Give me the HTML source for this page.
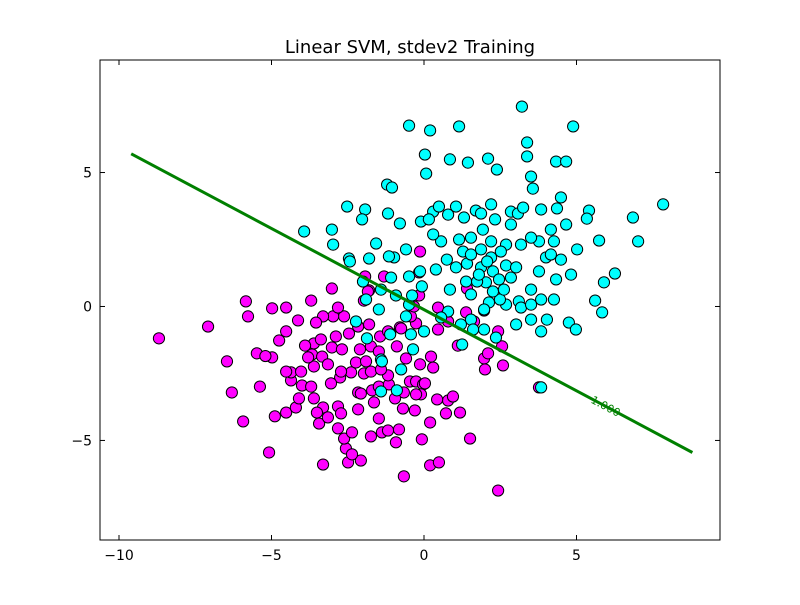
<!DOCTYPE html>
<html><head><meta charset="utf-8"><style>
body{margin:0;background:#fff;}
svg text{font-family:"DejaVu Sans","Liberation Sans",sans-serif;}
</style></head><body>
<svg id="chart" width="800" height="600" viewBox="0 0 800 600" xmlns="http://www.w3.org/2000/svg">
<rect width="800" height="600" fill="#fff"/>
<text x="410" y="53" font-size="18" text-anchor="middle">Linear SVM, stdev2 Training</text>
<g id="marks"></g>
<rect x="100" y="60" width="620" height="480" fill="none" stroke="#000" stroke-width="1"/>
<g id="ticks"></g>
</svg>
<script>
const cyanX=[-0.49,0.2,1.15,3.21,4.89,0.03,0.85,1.44,0.07,2.1,3.38,3.38,2.39,3.51,3.57,4.33,4.66,-1.21,-1.05,-2.52,-1.93,-2.03,-1.18,-0.79,-3.93,-3.02,-2.98,-2.46,-1.57,0.3,0.49,0.79,1.05,1.31,1.7,1.87,2.33,2.85,3.08,3.25,3.84,4.36,4.49,5.41,5.34,5.74,6.85,7.02,7.84,4.26,3.77,3.51,3.18,2.69,2.2,1.93,1.54,1.15,0.56,0.3,-0.13,0.39,0.75,1.28,1.41,1.87,2.2,2.69,3.02,3.77,4.0,4.49,4.82,5.61,5.84,5.9,4.33,4.26,3.84,3.51,3.11,2.69,2.13,1.54,1.38,0.85,0.79,0.56,-0.49,-0.92,-1.41,-1.9,-1.48,-2.23,-2.0,-0.59,-0.1,-0.98,-1.08,1.54,1.97,2.36,1.61,1.25,-0.36,-0.43,2.49,3.02,4.03,4.75,3.51,3.18,3.84,4.98,6.26,5.02,4.16,4.16,4.66,2.85,2.52,2.03,-1.41,-0.75,-1.41,-1.87,-1.11,3.84,1.74,1.87,2.2,0.16,-0.39,-0.07,-0.49,-2.43,-1.8,-1.15,-0.89,-1.38,0,-0.59,2.26,2.46,2.07,1.8,2.85,1.54,1.05,2.26,2.62,1.21,1.97,3.51];
const cyanY=[6.75,6.57,6.72,7.46,6.72,5.67,5.49,5.37,4.96,5.52,6.12,5.6,5.11,4.85,4.4,5.41,5.41,4.55,4.44,3.73,3.62,3.25,3.47,3.1,2.8,2.87,2.31,1.79,2.35,3.54,3.73,3.43,3.73,3.32,3.58,3.47,3.25,3.54,3.47,3.69,3.62,3.66,4.07,3.58,3.28,2.46,3.32,2.43,3.81,2.43,2.43,2.57,2.31,2.31,2.43,2.87,2.57,2.5,2.43,2.69,1.31,1.38,1.75,2.05,1.6,1.46,1.83,1.53,1.46,1.31,1.83,1.75,1.19,0.22,-0.22,0.9,1.01,0.26,0.26,0.63,0.19,0.07,0.15,0.45,0.93,0.63,-0.19,-0.41,0.07,0.41,0.63,0.26,-0.11,-0.56,0.93,2.13,3.17,1.83,1.08,-0.49,-0.11,-1.16,-0.86,-1.42,-1.6,-1.04,0.26,-0.67,-0.49,-0.6,-0.49,-0.04,-0.93,-0.86,1.23,2.13,1.94,2.87,3.06,3.06,2.05,0.9,-1.98,-2.35,-3.17,-1.19,-1.04,-3.02,0.93,2.13,3.81,3.25,0.41,0.75,1.12,1.68,1.79,1.87,-3.13,-2.05,-0.93,-0.37,1.31,1.01,1.68,1.19,1.08,1.94,1.46,0.56,0.63,-0.67,-0.86,0.07];
const magX=[-8.69,-7.08,-5.84,-5.77,-4.98,-4.52,-3.7,-3.02,-4.13,-4.52,-4.75,-5.48,-4.98,-6.46,-6.3,-5.38,-5.93,-5.08,-4.89,-4.52,-4.2,-4.1,-4.36,-4.36,-4.03,-4.0,-3.7,-3.61,-3.67,-3.61,-3.34,-3.15,-3.02,-2.69,-2.89,-2.46,-2.16,-1.8,-2.62,-2.98,-3.31,-3.54,-2.82,-3.31,-3.51,-3.44,-3.15,-2.82,-2.72,-2.75,-3.05,-2.39,-2.23,-1.9,-1.97,-1.74,-2.1,-1.74,-1.48,-1.44,-1.11,-0.89,-0.79,-1.97,-1.8,-1.93,-1.31,-0.16,-0.13,-2.16,-2.07,-1.7,-1.48,-1.15,-1.18,-1.41,-0.59,-0.46,-0.26,-0.03,-0.1,-0.26,-0.66,-0.95,-0.69,-0.3,-1.64,-2.16,-1.48,-1.74,-1.38,-1.18,-0.82,-0.92,-0.07,0.2,0.2,-0.66,-2.07,-2.49,-3.31,-2.56,-2.62,-2.36,-2.82,-3.61,-0.26,-0.43,-0.33,-0.16,-1.84,0.46,1.38,1.64,1.97,1.41,2.43,2.56,1.97,2.0,2.59,3.77,0.23,0.3,-0.75,-1.18,0.46,0.79,2.43,1.51,1.18,0.79,0.95,0.72,0.49,0.43,0.03,-0.13,1.11,2.1,-4.52,-3.9,-2.36,-3.8,-3.38,-2.72,-5.2];
const magY=[-1.19,-0.75,0.19,-0.37,-0.07,-0.04,0.22,0.67,-0.52,-0.93,-1.27,-1.75,-1.9,-2.05,-3.21,-2.99,-4.29,-5.45,-4.1,-3.96,-3.77,-3.43,-2.76,-2.46,-2.43,-2.95,-2.99,-2.24,-1.79,-1.38,-1.87,-2.16,-1.53,-1.6,-1.12,-1.01,-0.75,-0.67,-0.37,-0.37,-0.37,-0.6,-0.04,-3.77,-3.96,-4.37,-4.14,-3.73,-3.99,-2.65,-2.87,-2.46,-2.09,-2.05,-2.5,-2.43,-1.6,-1.49,-1.68,-1.12,-1.01,-1.49,-0.78,0.22,0.6,1.12,1.12,1.27,2.05,-3.21,-3.25,-3.13,-2.99,-2.91,-2.57,-2.35,-1.94,-2.8,-2.8,-2.91,-3.28,-3.28,-3.21,-3.43,-3.81,-3.88,-3.58,-3.84,-4.18,-4.85,-4.7,-4.63,-4.59,-5.07,-4.96,-4.33,-5.93,-6.34,-5.75,-5.82,-5.9,-5.3,-4.93,-4.7,-4.55,-3.43,-0.63,-0.37,0,0.41,0.56,-0.04,-0.22,-0.56,-0.15,0.67,-0.93,-1.49,-1.94,-2.35,-2.2,-3.02,-1.87,-2.28,-0.82,-0.93,-0.86,-0.56,-6.87,-4.93,-3.96,-3.51,-3.36,-3.99,-5.82,-3.47,-2.87,-2.16,-1.46,-1.75,-2.43,-1.46,-5.52,-1.9,-1.23,-2.43,-1.85];
const lineX=[-9.6,8.8];
const lineY=[5.7,-5.45];
const xTicks=[-10,-5,0,5];
const xTickLabels=["\u221210","\u22125","0","5"];
const yTicks=[-5,0,5];
const yTickLabels=["\u22125","0","5"];
const contourLabel="1.000";
const contourLabelPos=[5.9,-3.85];

const X0=-10.623,X1=9.705,Y0=-8.716,Y1=9.2;
const L=100,R=720,T=60,B=540;
const sx=v=>L+(v-X0)/(X1-X0)*(R-L);
const sy=v=>B-(v-Y0)/(Y1-Y0)*(B-T);
const NS="http://www.w3.org/2000/svg";
const marks=document.getElementById('marks');
const ticks=document.getElementById('ticks');
function mk(tag,attrs,parent){const e=document.createElementNS(NS,tag);for(const k in attrs)e.setAttribute(k,attrs[k]);parent.appendChild(e);return e;}

magX.forEach((x,i)=>{
  const c=mk('circle',{cx:sx(x),cy:sy(magY[i]),r:5.6,fill:'#ff00ff',stroke:'#000','stroke-width':1},marks);
  
  
});
cyanX.forEach((x,i)=>{
  const c=mk('circle',{cx:sx(x),cy:sy(cyanY[i]),r:5.6,fill:'#00ffff',stroke:'#000','stroke-width':1},marks);
  
  
});
const ln=mk('line',{x1:sx(lineX[0]),y1:sy(lineY[0]),x2:sx(lineX[1]),y2:sy(lineY[1]),stroke:'#008000','stroke-width':3},marks);


const ang=Math.atan2(sy(lineY[1])-sy(lineY[0]),sx(lineX[1])-sx(lineX[0]))*180/Math.PI;
const lx=sx(contourLabelPos[0]),ly=sy(contourLabelPos[1]);
const lt=mk('text',{x:lx,y:ly,fill:'#008000','font-size':11,'text-anchor':'middle',transform:`rotate(${ang} ${lx} ${ly})`},marks);
lt.textContent=contourLabel;



xTicks.forEach((v,i)=>{
  const x=sx(v);
  mk('line',{x1:x,y1:B,x2:x,y2:B-5,stroke:'#000'},ticks);
  mk('line',{x1:x,y1:T,x2:x,y2:T+5,stroke:'#000'},ticks);
  const t=mk('text',{x:x,y:B+20,'font-size':14,'text-anchor':'middle'},ticks);
  t.textContent=xTickLabels[i];
  
  
});
yTicks.forEach((v,i)=>{
  const y=sy(v);
  mk('line',{x1:L,y1:y,x2:L+5,y2:y,stroke:'#000'},ticks);
  mk('line',{x1:R,y1:y,x2:R-5,y2:y,stroke:'#000'},ticks);
  const t=mk('text',{x:L-8,y:y+5,'font-size':14,'text-anchor':'end'},ticks);
  t.textContent=yTickLabels[i];
  
  
});
</script>
</body></html>
